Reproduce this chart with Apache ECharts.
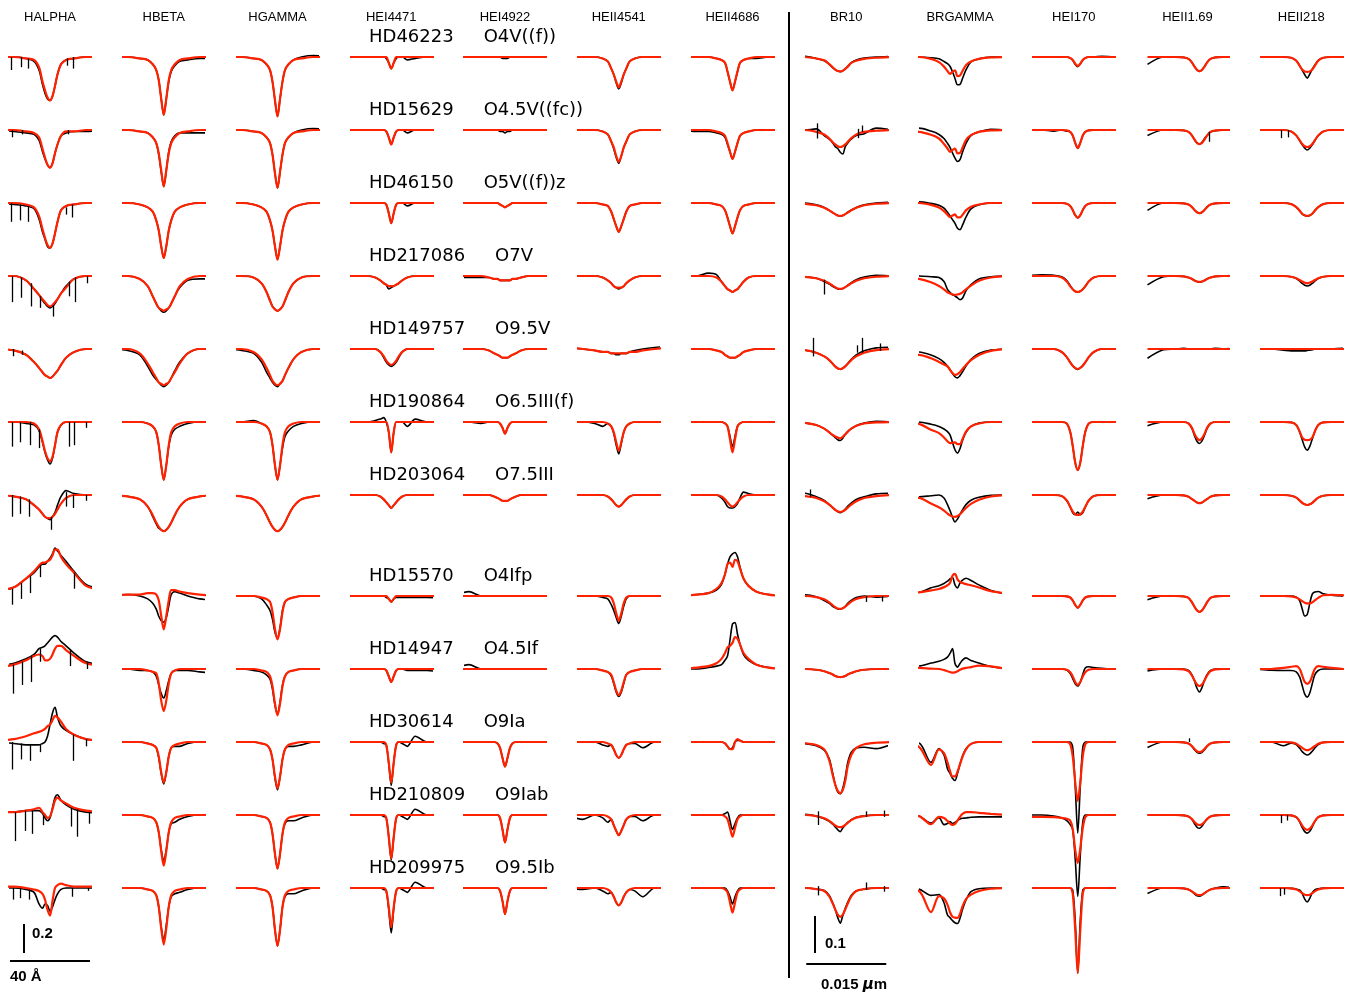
<!DOCTYPE html>
<html><head><meta charset="utf-8">
<script src="https://cdn.jsdelivr.net/npm/echarts@6/dist/echarts.min.js"></script>
<style>html,body{margin:0;padding:0;background:#fff}#chart{width:1351px;height:999px}</style>
</head><body><div id="chart"></div>
<script>
// ---------------- DATA ----------------
const lineNames = ['HALPHA','HBETA','HGAMMA','HEI4471','HEI4922','HEII4541','HEII4686','BR10','BRGAMMA','HEI170','HEII1.69','HEII218'];
const starNames = ['HD46223','HD15629','HD46150','HD217086','HD149757','HD190864','HD203064','HD15570','HD14947','HD30614','HD210809','HD209975'];
const spectralTypes = ['O4V((f))','O4.5V((fc))','O5V((f))z','O7V','O9.5V','O6.5III(f)','O7.5III','O4Ifp','O4.5If','O9Ia','O9Iab','O9.5Ib'];
// wavelength offsets from line centre at which the profiles were read (optical: Angstrom, IR: micron)
const dLambdaOptical = [-26,-18,-12,-8,-5.5,-3.75,-2.5,-1.25,0,1.25,2.5,3.75,5.5,8,12,18,26];
const dLambdaIR = [-0.00975,-0.00675,-0.0045,-0.003,-0.00206,-0.00141,-0.00094,-0.00047,0,0.00047,0.00094,0.00141,0.00206,0.003,0.0045,0.00675,0.00975];
// line centre relative to the middle of its window (axis units)
const lineCentreShift = [0,0,0,0,0,0,0,-0.001125,-0.00094,0.00075,0.00225,0.001125];
// profiles: (normalised flux - 1) in percent, one row per star

const obsHALPHA = [
[0,0,-1,-3,-9,-19,-25,-29,-30,-27,-20,-12,-5,-2,-1,0,0],
[0,-1,-2,-3,-7,-15,-20,-24,-26,-23,-16,-10,-4,-2,-1,-1,0],
[0,-1,-2,-4,-11,-20,-25,-30,-31,-28,-21,-13,-5,-2,-1,0,0],
[0,0,-3,-9,-13,-17,-19,-21,-22,-21,-19,-16,-12,-7,-2,0,0],
[0,-1,-4,-9,-13,-16,-18,-19,-20,-19,-17,-15,-11,-6,-2,0,0],
[0,0,-1,-2,-6,-14,-21,-26,-29,-25,-16,-7,-2,0,0,0,0],
[0,-1,-3,-7,-10,-13,-15,-16,-17,-15,-12,-7,-1,3,1,0,0],
[3,6,12,16,20,22,22,24,26,29,33,31,28,24,17,8,5],
[2,4,7,10,14,15,16,18,20,22,23,22,19,16,11,5,3],
[0,-1,-2,-2,-2,-1,0,4,12,20,24,17,11,8,5,2,1],
[2,2,3,3,3,1,-2,-4,-2,5,12,14,10,7,4,2,1],
[0,0,-1,-3,-11,-14,-11,-12,-16,-13,-8,-4,-1,0,0,0,0]];
const modHALPHA = [
[0,0,-1,-2,-7,-17,-23,-28,-30,-27,-20,-12,-5,-2,-1,0,0],
[0,0,-1,-2,-5,-13,-19,-24,-26,-23,-16,-10,-4,-1,-1,0,0],
[0,0,-1,-3,-9,-18,-24,-29,-31,-28,-21,-13,-5,-2,-1,0,0],
[0,0,-3,-9,-13,-16,-18,-20,-21,-20,-18,-16,-12,-8,-2,0,0],
[0,-1,-4,-9,-13,-16,-18,-19,-20,-19,-17,-15,-11,-6,-2,0,0],
[0,0,0,-1,-5,-13,-20,-25,-27,-24,-16,-7,-2,0,0,0,0],
[0,-1,-3,-7,-10,-13,-15,-16,-16,-15,-13,-10,-6,-2,0,0,0],
[4,6,12,17,21,23,23,24,25,28,32,32,27,22,16,7,4],
[1,3,6,9,10,9,6,6,7,10,14,16,16,13,9,4,2],
[1,2,4,6,7,8,9,11,12,15,18,17,14,9,5,2,1],
[2,2,3,4,5,2,0,-2,-1,4,10,12,10,8,5,3,2],
[1,1,0,-1,-2,-4,-8,-15,-19,-9,0,2,3,2,1,1,1]];

const obsHBETA = [
[0,0,-1,-2,-5,-9,-16,-29,-40,-29,-17,-10,-6,-3,-2,-1,-1],
[0,0,-1,-2,-5,-9,-17,-29,-39,-28,-15,-8,-4,-2,-2,-2,-2],
[0,0,-1,-3,-6,-12,-19,-30,-38,-30,-19,-12,-6,-3,-1,0,0],
[0,0,-2,-7,-14,-19,-22,-24,-25,-24,-22,-19,-14,-8,-3,-2,-2],
[0,-1,-4,-12,-18,-21,-23,-25,-26,-25,-23,-20,-15,-9,-3,0,0],
[0,0,0,-1,-3,-7,-16,-30,-40,-30,-17,-9,-5,-3,-1,0,0],
[0,-1,-3,-8,-15,-20,-23,-24,-25,-24,-22,-19,-14,-8,-3,-1,0],
[0,1,0,-2,-5,-9,-14,-17,-18,-15,-7,1,3,2,0,-2,-3],
[0,0,-1,-1,-2,-5,-11,-17,-20,-15,-8,-3,-1,-1,-1,-2,-3],
[0,0,0,-1,-2,-4,-11,-22,-29,-21,-10,-4,-3,-3,-1,0,0],
[0,0,0,-1,-2,-5,-12,-24,-32,-24,-12,-6,-5,-3,-1,0,0],
[0,0,0,-1,-2,-5,-13,-27,-36,-26,-13,-6,-4,-3,-1,0,0]];
const modHBETA = [
[0,0,-1,-2,-5,-9,-16,-29,-40,-29,-16,-9,-5,-2,-1,0,0],
[0,0,-1,-2,-5,-9,-16,-28,-39,-28,-16,-9,-5,-2,-1,0,0],
[0,0,-1,-3,-6,-12,-19,-30,-38,-30,-19,-12,-6,-3,-1,0,0],
[0,0,-2,-7,-14,-19,-22,-23,-24,-23,-22,-19,-14,-7,-2,0,0],
[0,0,-3,-10,-16,-20,-23,-24,-25,-24,-23,-20,-16,-10,-3,0,0],
[0,0,0,-1,-3,-7,-16,-30,-40,-30,-16,-7,-3,-1,0,0,0],
[0,-1,-3,-8,-14,-19,-22,-24,-25,-24,-22,-19,-14,-8,-3,-1,0],
[0,1,1,2,2,1,-3,-14,-23,-14,-3,4,4,3,2,1,0],
[0,0,0,-1,-2,-3,-10,-22,-29,-22,-10,-3,-1,0,0,0,0],
[0,0,0,-1,-2,-4,-10,-21,-28,-21,-10,-4,-2,-1,0,0,0],
[0,0,0,-1,-2,-5,-12,-25,-35,-25,-12,-5,-2,-1,0,0,0],
[0,0,0,-1,-2,-5,-13,-28,-39,-28,-13,-5,-2,-1,0,0,0]];

const obsHGAMMA = [
[0,0,-1,-2,-5,-9,-17,-30,-41,-29,-17,-9,-5,-2,0,1,0],
[0,0,-1,-2,-5,-9,-17,-30,-40,-29,-17,-9,-5,-2,0,1,0],
[0,0,-1,-3,-6,-12,-19,-30,-39,-30,-19,-12,-6,-3,-1,0,0],
[0,0,-1,-5,-11,-17,-21,-23,-24,-23,-21,-17,-11,-5,-1,0,0],
[0,-1,-3,-9,-16,-20,-23,-25,-26,-24,-22,-18,-13,-7,-2,0,0],
[0,0,1,-1,-3,-7,-16,-30,-40,-30,-18,-10,-6,-3,-1,0,0],
[0,-1,-3,-8,-14,-19,-22,-24,-25,-24,-22,-19,-14,-8,-3,-1,0],
[0,0,0,-2,-6,-10,-16,-25,-29,-22,-10,-4,-2,-1,0,0,0],
[0,0,-1,-2,-4,-7,-14,-25,-31,-23,-11,-5,-2,-1,0,0,0],
[0,0,0,-1,-2,-5,-12,-25,-33,-24,-12,-5,-3,-3,-2,0,0],
[0,0,0,-1,-2,-5,-13,-27,-37,-27,-13,-6,-4,-4,-2,0,0],
[0,0,0,-1,-2,-5,-13,-29,-40,-29,-13,-6,-4,-4,-2,0,0]];
const modHGAMMA = [
[0,0,-1,-2,-5,-9,-17,-30,-41,-29,-17,-9,-5,-2,-1,0,0],
[0,0,-1,-2,-5,-9,-17,-30,-40,-29,-17,-9,-5,-2,-1,0,0],
[0,0,-1,-3,-6,-12,-19,-30,-39,-30,-19,-12,-6,-3,-1,0,0],
[0,0,-1,-5,-11,-17,-21,-23,-24,-23,-21,-17,-11,-5,-1,0,0],
[0,0,-2,-7,-13,-18,-22,-24,-25,-24,-22,-18,-13,-7,-2,0,0],
[0,0,0,-1,-3,-7,-16,-30,-40,-30,-16,-7,-3,-1,0,0,0],
[0,-1,-3,-8,-14,-19,-22,-24,-25,-24,-22,-19,-14,-8,-3,-1,0],
[0,0,0,-1,-2,-4,-11,-23,-30,-23,-11,-4,-2,-1,0,0,0],
[0,0,0,-1,-2,-5,-12,-24,-32,-24,-12,-5,-2,-1,0,0,0],
[0,0,0,-1,-2,-5,-12,-24,-32,-24,-12,-5,-2,-1,0,0,0],
[0,0,0,-1,-2,-5,-13,-27,-37,-27,-13,-5,-2,-1,0,0,0],
[0,0,0,-1,-2,-5,-13,-29,-40,-29,-13,-5,-2,-1,0,0,0]];

const obsHEI4471 = [
[0,0,0,0,0,0,-1,-4,-8,-4,-1,0,0,-2,-1,0,0],
[0,0,0,0,0,0,-1,-5,-10,-5,-1,0,0,-2,0,0,0],
[0,0,0,0,0,0,-1,-7,-14,-7,-1,0,0,-2,0,0,0],
[0,0,0,-1,-3,-5,-6,-9,-8,-7,-6,-5,-3,-1,0,0,0],
[0,0,0,0,-2,-6,-9,-11,-12,-11,-9,-6,-2,0,0,0,0],
[0,0,0,1,2,3,0,-7,-21,-7,0,0,0,-3,2,0,0],
[0,0,0,0,-1,-3,-5,-7,-9,-7,-5,-3,-1,0,0,0,0],
[0,0,0,0,0,0,-1,-2,-4,-2,-1,-1,-1,-1,-1,-1,-2],
[0,0,0,0,0,0,-1,-5,-9,-5,-1,0,0,-1,-1,-1,-3],
[0,0,0,0,0,-1,-2,-15,-30,-14,-2,0,-1,-3,4,0,0],
[0,0,0,0,0,-1,-2,-15,-31,-15,-2,0,-1,-3,4,0,0],
[0,0,0,0,0,-1,-2,-15,-31,-14,-2,0,-1,-3,4,0,0]];
const modHEI4471 = [
[0,0,0,0,0,0,0,-4,-8,-4,0,0,0,0,0,0,0],
[0,0,0,0,0,0,-1,-5,-10,-5,-1,0,0,0,0,0,0],
[0,0,0,0,0,0,-1,-7,-14,-7,-1,0,0,0,0,0,0],
[0,0,0,-1,-3,-5,-6,-7,-7,-7,-6,-5,-3,-1,0,0,0],
[0,0,0,0,-2,-5,-8,-10,-11,-10,-8,-5,-2,0,0,0,0],
[0,0,0,0,0,0,0,-7,-21,-7,0,0,0,0,0,0,0],
[0,0,0,0,-1,-3,-5,-7,-9,-7,-5,-3,-1,0,0,0,0],
[0,0,0,0,0,0,0,-2,-4,-2,0,0,0,0,0,0,0],
[0,0,0,0,0,0,-1,-5,-9,-5,-1,0,0,0,0,0,0],
[0,0,0,0,0,0,-2,-14,-28,-14,-2,0,0,0,0,0,0],
[0,0,0,0,0,0,-2,-15,-30,-15,-2,0,0,0,0,0,0],
[0,0,0,0,0,0,-2,-13,-27,-13,-2,0,0,0,0,0,0]];

const obsHEI4922 = [
[0,0,0,0,0,0,0,-1,-1,-1,0,0,0,0,0,0,0],
[0,0,0,0,0,0,-1,-1,-2,-1,-1,0,0,0,0,0,0],
[0,0,0,0,0,0,-1,-2,-3,-2,-1,0,0,0,0,0,0],
[-1,-1,-1,-1,-2,-2,-3,-3,-3,-3,-3,-2,-2,-1,0,0,0],
[0,0,0,-1,-3,-4,-5,-6,-6,-6,-5,-4,-3,-1,0,0,0],
[0,0,-1,0,0,0,-1,-4,-8,-4,-1,0,0,0,0,0,0],
[0,0,0,0,-1,-2,-3,-4,-4,-4,-3,-2,-1,0,0,0,0],
[0,3,0,0,0,0,0,0,0,0,0,0,0,0,0,0,0],
[0,3,0,0,0,0,0,0,0,0,0,0,0,0,0,0,0],
[0,0,0,0,0,-1,-4,-11,-17,-11,-4,-1,0,0,0,0,0],
[0,0,0,0,0,0,-2,-10,-19,-10,-2,0,0,0,0,0,0],
[0,0,0,0,0,0,-2,-9,-18,-9,-2,0,0,0,0,0,0]];
const modHEI4922 = [
[0,0,0,0,0,0,0,0,0,0,0,0,0,0,0,0,0],
[0,0,0,0,0,0,0,0,0,0,0,0,0,0,0,0,0],
[0,0,0,0,0,0,-1,-2,-3,-2,-1,0,0,0,0,0,0],
[0,0,0,-1,-2,-2,-3,-3,-3,-3,-3,-2,-2,-1,0,0,0],
[0,0,0,-1,-3,-4,-5,-6,-6,-6,-5,-4,-3,-1,0,0,0],
[0,0,0,0,0,0,-1,-4,-8,-4,-1,0,0,0,0,0,0],
[0,0,0,0,-1,-2,-3,-4,-4,-4,-3,-2,-1,0,0,0,0],
[0,0,0,0,0,0,0,0,0,0,0,0,0,0,0,0,0],
[0,0,0,0,0,0,0,0,0,0,0,0,0,0,0,0,0],
[0,0,0,0,0,-1,-4,-11,-17,-11,-4,-1,0,0,0,0,0],
[0,0,0,0,0,0,-2,-10,-19,-10,-2,0,0,0,0,0,0],
[0,0,0,0,0,0,-2,-9,-18,-9,-2,0,0,0,0,0,0]];

const obsHEII4541 = [
[0,0,0,-1,-3,-8,-12,-18,-22,-18,-12,-8,-3,-1,0,0,0],
[0,0,0,-1,-3,-8,-13,-19,-23,-18,-12,-8,-3,-1,0,0,0],
[0,0,0,-1,-2,-6,-11,-16,-20,-16,-11,-6,-2,-1,0,0,0],
[0,0,0,-1,-3,-5,-7,-8,-9,-8,-7,-5,-3,-1,0,0,0],
[1,0,-1,-2,-2,-3,-3,-4,-4,-3,-3,-3,-2,-1,0,1,2],
[0,0,-1,-3,-1,-3,-8,-16,-22,-15,-7,-3,-1,0,0,0,0],
[0,0,0,0,-1,-3,-5,-7,-8,-7,-5,-3,-1,0,0,0,0],
[0,0,0,-1,-2,-6,-10,-15,-19,-14,-7,-2,0,0,0,0,0],
[0,0,0,-1,-2,-5,-10,-16,-19,-16,-10,-4,-2,-1,0,0,0],
[0,0,0,-2,-3,-2,-5,-9,-11,-9,-5,-2,-1,-1,-4,0,0],
[0,-3,0,-2,-5,-3,-7,-11,-14,-11,-7,-3,-1,-1,-4,0,0],
[0,-1,0,-2,-4,-3,-6,-10,-12,-10,-6,-3,-1,-2,-6,0,0]];
const modHEII4541 = [
[0,0,0,-1,-3,-8,-12,-17,-21,-17,-12,-8,-3,-1,0,0,0],
[0,0,0,-1,-3,-8,-12,-18,-22,-18,-12,-8,-3,-1,0,0,0],
[0,0,0,-1,-2,-6,-11,-16,-20,-16,-11,-6,-2,-1,0,0,0],
[0,0,0,-1,-3,-5,-7,-8,-8,-8,-7,-5,-3,-1,0,0,0],
[1,0,-1,-2,-2,-3,-3,-3,-3,-3,-3,-3,-2,-2,-1,0,1],
[0,0,0,0,-1,-3,-7,-14,-20,-14,-7,-3,-1,0,0,0,0],
[0,0,0,0,-1,-3,-5,-7,-8,-7,-5,-3,-1,0,0,0,0],
[0,0,0,0,0,-1,-5,-12,-17,-12,-5,-1,0,0,0,0,0],
[0,0,0,-1,-2,-4,-9,-15,-18,-15,-9,-4,-2,-1,0,0,0],
[0,0,0,0,-1,-2,-5,-9,-11,-9,-5,-2,-1,0,0,0,0],
[0,0,0,0,-1,-3,-7,-11,-14,-11,-7,-3,-1,0,0,0,0],
[0,0,0,0,-1,-3,-6,-10,-12,-10,-6,-3,-1,0,0,0,0]];

const obsHEII4686 = [
[0,0,0,-1,-2,-4,-10,-17,-23,-17,-10,-4,-2,-1,-1,0,0],
[0,-1,-1,-2,-3,-5,-10,-15,-20,-15,-9,-4,-2,-1,0,0,0],
[0,0,0,-1,-2,-5,-10,-16,-21,-16,-10,-5,-2,-1,0,0,0],
[0,0,2,1,-4,-7,-9,-10,-11,-10,-9,-7,-4,-1,0,0,0],
[0,0,0,-1,-2,-4,-5,-6,-6,-6,-5,-4,-2,-1,0,0,0],
[0,0,0,0,0,-1,-3,-10,-17,-10,-3,-1,0,0,0,0,0],
[0,0,0,0,-2,-5,-8,-9,-9,-8,-6,-2,2,1,0,0,0],
[0,1,2,4,8,15,22,27,29,30,27,20,12,7,3,1,0],
[0,0,1,2,3,6,9,20,31,32,24,17,10,6,3,1,0],
[0,0,0,0,0,-1,-3,-5,-4,0,1,1,0,0,0,0,0],
[0,0,0,0,0,1,2,-4,-10,-6,-2,0,0,0,0,0,0],
[0,0,0,0,0,0,-2,-6,-11,-6,-2,0,0,0,0,0,0]];
const modHEII4686 = [
[0,0,0,-1,-2,-4,-10,-17,-23,-17,-10,-4,-2,-1,0,0,0],
[0,0,0,-1,-2,-4,-9,-15,-20,-15,-9,-4,-2,-1,0,0,0],
[0,0,0,-1,-2,-5,-10,-16,-21,-16,-10,-5,-2,-1,0,0,0],
[0,0,0,-1,-4,-7,-9,-10,-11,-10,-9,-7,-4,-1,0,0,0],
[0,0,0,-1,-2,-4,-5,-6,-6,-6,-5,-4,-2,-1,0,0,0],
[0,0,0,0,0,-1,-3,-12,-21,-12,-3,-1,0,0,0,0,0],
[0,0,0,0,-1,-3,-5,-7,-8,-7,-5,-3,-1,0,0,0,0],
[0,1,2,5,9,15,22,23,20,25,24,19,12,7,3,1,0],
[0,1,2,4,7,11,15,16,18,22,21,17,11,7,3,1,0],
[0,0,0,0,0,-1,-3,-5,-5,0,2,1,0,0,0,0,0],
[0,0,0,0,0,-1,-3,-9,-15,-9,-3,-1,0,0,0,0,0],
[0,0,0,0,0,-1,-3,-10,-17,-10,-3,-1,0,0,0,0,0]];

const obsBR10 = [
[0,0.2,-0.4,-1,-2,-2.9,-3.4,-3.8,-4,-3.7,-3.2,-2.5,-1.5,-0.8,-0.3,0,0.2],
[0,0,0.3,-1.5,-2.5,-3.5,-4.5,-5,-6,-6.5,-4.5,-3.5,-2.5,-1.5,-1,0.5,0],
[0,0,-0.5,-1.2,-2,-2.6,-3,-3.4,-3.6,-3.4,-3,-2.5,-1.9,-1.2,-0.5,0,0.2],
[0,-0.2,-0.6,-1.5,-2.2,-2.8,-3.2,-3.5,-3.6,-3.4,-3,-2.5,-1.8,-1,-0.3,0.2,0],
[0,-0.3,-1,-2,-3,-4,-4.8,-5.3,-5.5,-5.2,-4.6,-3.9,-2.8,-1.6,-0.5,0.3,0.5],
[0,-0.2,-0.8,-1.8,-2.8,-3.6,-4.2,-4.8,-5,-4.4,-3.4,-2.6,-1.8,-1,-0.3,0.2,0],
[0,0.5,-0.5,-1.5,-2.6,-3.5,-4,-4.5,-4.8,-4.4,-3.8,-3,-2.2,-1.2,-0.5,0.3,0.5],
[0,0.3,-0.2,-1.2,-2,-2.8,-3.2,-3.5,-3.6,-3.3,-2.8,-2,-1.2,-0.4,0,-0.3,0],
[0,0,-0.2,-0.6,-1.1,-1.5,-1.9,-2.1,-2.2,-2.1,-1.9,-1.5,-1.1,-0.6,-0.2,0,0],
[0,-0.4,-1,-2.2,-4.5,-8.5,-11.5,-13.5,-14,-12.5,-9.5,-5.5,-2.8,-1.6,-1.4,-1.8,-0.5],
[0,0.2,-0.3,-1,-1.7,-2.5,-3.2,-4,-4.5,-3.5,-2.7,-2,-1.3,-0.6,-0.2,0,0],
[0,0,-0.3,-0.7,-2,-4,-5.8,-8,-9.5,-7.5,-5.5,-3.8,-2,-0.8,-0.3,0,0]];
const modBR10 = [
[0,0,-0.4,-0.9,-1.9,-2.8,-3.4,-3.8,-3.9,-3.7,-3.2,-2.6,-1.6,-1,-0.5,-0.2,0],
[0,0,-0.5,-1.2,-2.3,-3.3,-3.9,-4.4,-4.6,-4.4,-3.9,-3.2,-2.2,-1.2,-0.5,-0.2,0],
[0,-0.2,-0.6,-1.3,-2,-2.6,-3,-3.4,-3.5,-3.4,-3,-2.6,-2,-1.3,-0.6,-0.2,0],
[0,-0.2,-0.6,-1.3,-2,-2.6,-3,-3.4,-3.5,-3.4,-3,-2.6,-2,-1.3,-0.6,-0.2,0],
[0,-0.3,-1,-2,-3,-4,-4.7,-5.2,-5.4,-5.2,-4.7,-4,-3,-2,-1,-0.3,0],
[0,-0.2,-0.8,-1.8,-2.8,-3.5,-3.9,-4.2,-4.4,-4,-3.3,-2.6,-1.8,-1,-0.4,-0.1,0],
[0,-0.3,-0.8,-1.7,-2.6,-3.4,-4,-4.4,-4.6,-4.4,-4,-3.4,-2.6,-1.7,-0.8,-0.3,0],
[0,0,-0.3,-0.9,-1.7,-2.5,-3,-3.4,-3.5,-3.3,-2.9,-2.3,-1.5,-0.8,-0.3,0,0],
[0,0,-0.2,-0.6,-1.1,-1.5,-1.9,-2.1,-2.2,-2.1,-1.9,-1.5,-1.1,-0.6,-0.2,0,0],
[0,-0.3,-0.8,-2,-5,-9,-11.5,-13.2,-13.8,-13,-10.5,-6.5,-3.5,-1.6,-0.6,-0.2,0],
[0,0,-0.3,-0.9,-1.6,-2.3,-2.8,-3.2,-3.3,-3.1,-2.7,-2.1,-1.4,-0.7,-0.3,0,0],
[0,0,-0.3,-0.8,-2.3,-4.2,-5.8,-7.2,-7.8,-7.2,-5.8,-4.2,-2.3,-0.8,-0.3,0,0]];

const obsBRGAMMA = [
[0,0,-0.2,-0.5,-1.2,-1.8,-2.5,-4,-5.8,-7.5,-7.4,-5.8,-3.5,-1.3,-0.5,0,0],
[0.5,0.5,-0.3,-1.2,-2.3,-3.6,-4.7,-6.2,-7.6,-8.5,-8,-6,-3.6,-1.5,-0.5,0.2,0],
[0,0.3,-0.1,-0.6,-1.4,-2.5,-3.5,-4.5,-5.5,-6.8,-7.2,-6,-3.8,-1.6,-0.5,0,0],
[0,0,-0.2,-0.4,-1.5,-3.6,-4.4,-5,-5.4,-5.9,-6.4,-6,-4,-2.3,-0.8,-0.2,0],
[-0.7,-0.8,-1.6,-2.6,-3.6,-4.6,-5.6,-6.6,-7.5,-7.8,-7.2,-6.2,-4.6,-2.8,-1.2,-0.3,0],
[0,0,-0.6,-1.2,-1.9,-2.6,-3.5,-5.5,-7.5,-8.4,-7.2,-5,-2.8,-1.2,-0.3,0,0],
[-0.5,-0.5,-0.2,0,-0.8,-2.6,-4.2,-6,-7.3,-6.5,-5.2,-4,-2.6,-1.4,-0.6,-0.1,0],
[0.8,1,2.2,2.8,3.4,4,4.6,5,3,2.2,3.5,4.3,4.8,4.2,3,1.5,0.5],
[0.5,0.8,1.6,2.1,2.6,3.2,4.2,5.5,1.5,0.5,1.5,2.4,3,2.3,1.6,0.7,0],
[0,-0.3,-5.5,-1.8,-3.5,-7.2,-8.5,-9.8,-10.4,-8.5,-6,-3.8,-1.8,-0.5,0,0,0],
[0,-0.3,-2.2,-0.7,-2.6,-2.3,-1.8,-2.3,-2,-1.5,-1.1,-0.9,-0.8,-0.6,-0.5,-0.5,-0.5],
[0,-0.3,-2,-1.8,-4,-7.3,-8,-8.8,-9.4,-9.6,-8.2,-5.8,-3.3,-1,-0.2,0,0]];
const modBRGAMMA = [
[0,0,-0.5,-1.4,-2.6,-3.8,-4.6,-4,-3.6,-5.2,-5,-3.8,-2.2,-1.2,-0.5,-0.1,0],
[-0.4,-0.5,-1.3,-2.3,-3.8,-5,-5.9,-5.4,-5,-6.3,-6.2,-4.8,-2.7,-1.4,-0.5,-0.1,0],
[0,0,-0.5,-1.2,-2.2,-3.2,-3.8,-3.4,-3.1,-3.9,-3.9,-3.2,-2,-1,-0.4,0,0],
[-0.5,-0.8,-1.7,-2.7,-3.6,-4.4,-4.7,-5,-5.1,-5,-4.8,-4.4,-3.6,-2.6,-1.3,-0.4,0],
[-1.5,-1.6,-2.5,-3.5,-4.2,-4.7,-5.6,-6.5,-7,-6.8,-6.2,-5.4,-4.3,-3,-1.6,-0.5,0],
[0,-0.5,-2.1,-3,-4.2,-5.2,-5.7,-5.6,-5.5,-6,-6,-4.6,-2.6,-1.2,-0.4,0,0],
[-0.6,-0.8,-2.3,-3.3,-4.2,-5,-5.5,-5.8,-5.9,-5.7,-5.2,-4.5,-3.5,-2.4,-1.3,-0.4,0],
[0.8,1,1.5,1.9,2.4,2.9,3.5,5.5,6,4.5,3.8,3.5,3.2,2.9,2.3,1.3,0.7],
[0.3,0.3,0.1,0,-0.3,-0.6,-0.8,-1,-0.9,-0.6,-0.2,0.1,0.3,0.5,0.9,0.7,0],
[-0.5,-1.3,-6.2,-2,-3,-5.5,-7.8,-9.3,-9.3,-8,-6,-4,-2,-0.5,0,0,0],
[0,-0.3,-2.5,-0.5,-0.8,-1.6,-2.3,-2.7,-2.4,-1.5,-0.5,0.3,0.8,0.8,0.6,0.3,0],
[-0.3,-0.8,-6.5,-2.2,-2.8,-4.5,-6.5,-7.8,-8,-8.1,-7,-5,-3,-1.8,-0.8,-0.2,0]];

const obsHEI170 = [
[0,0,0,0,0,-0.3,-0.9,-2,-2.6,-1.9,-0.8,-0.3,0,0,0.2,0,0],
[0,0,-0.3,0,-0.3,-0.5,-1.5,-3.5,-4.9,-3.5,-1.5,-0.5,-0.1,0,0,0,0],
[0,0,0,0,-0.2,-0.8,-1.9,-3.3,-4,-3.3,-1.9,-0.8,-0.2,0,0,0,0],
[0,0.3,0.2,-0.2,-1.2,-2.6,-3.6,-4.2,-4.4,-4.1,-3.6,-2.8,-1.5,-0.4,0,0,0],
[0,0,0,-0.8,-2.2,-3.6,-4.6,-5.2,-5.5,-5.1,-4.5,-3.6,-2.2,-0.8,0,0,0],
[0,0,0,0,-0.4,-2.7,-6.5,-11,-13,-11,-6.5,-2.7,-0.4,0,0,0,0],
[0,0,0,-0.3,-1.5,-3.3,-4.8,-5.3,-4.6,-5.3,-4.8,-3.3,-1.5,-0.3,0,0,0],
[0,0,0,0,-0.1,-0.4,-1.2,-2.4,-3.2,-2.4,-1.2,-0.4,-0.1,0,0,0,0],
[0,0,0,0,-0.3,-1.2,-2.6,-4,-4.6,-3.6,-1.5,0.3,0.6,0.4,0.2,0,0],
[0,0,0,0,0,0,-1.5,-12,-24.6,-12,-1.5,0,0,0,0,0,0],
[0,0,-0.3,-0.8,-1.5,-2.6,-4,-12,-22,-11,-2,0,0,0,0,0,0],
[0,0,0,0,0,0,-0.6,-9,-23,-9,-0.6,0,0,0,0,0,0]];
const modHEI170 = [
[0,0,0,0,0,-0.3,-0.8,-1.8,-2.4,-1.8,-0.8,-0.3,0,0,0,0,0],
[0,0,0,0,-0.1,-0.5,-1.5,-3.5,-4.9,-3.5,-1.5,-0.5,-0.1,0,0,0,0],
[0,0,0,0,-0.2,-0.8,-1.9,-3.3,-4,-3.3,-1.9,-0.8,-0.2,0,0,0,0],
[0,0,0,-0.4,-1.5,-2.8,-3.6,-4.1,-4.3,-4.1,-3.6,-2.8,-1.5,-0.4,0,0,0],
[0,0,0,-0.8,-2.2,-3.6,-4.5,-5.1,-5.4,-5.1,-4.5,-3.6,-2.2,-0.8,0,0,0],
[0,0,0,0,-0.4,-2.7,-6.5,-11,-13,-11,-6.5,-2.7,-0.4,0,0,0,0],
[0,0,0,-0.3,-1.5,-3.2,-4.5,-5.2,-5.4,-5.2,-4.5,-3.2,-1.5,-0.3,0,0,0],
[0,0,0,0,-0.1,-0.4,-1.2,-2.4,-3.2,-2.4,-1.2,-0.4,-0.1,0,0,0,0],
[0,0,0,0,-0.2,-0.9,-2,-3.5,-4.3,-3.5,-2,-0.9,-0.2,0,0,0,0],
[0,0,0,0,0,-0.6,-3.9,-11,-16,-11,-3.9,-0.6,0,0,0,0,0],
[-0.5,-0.5,-0.6,-0.8,-1,-1.5,-3.8,-9.5,-13,-9,-3.5,-0.6,0,0,0,0,0],
[0,0,0,0,0,0,-1.5,-11.5,-23,-11.5,-1.5,0,0,0,0,0,0]];

const obsHEII169 = [
[-2,0,0,-0.1,-0.5,-1.5,-2.6,-3.5,-3.9,-3.5,-2.6,-1.5,-0.5,-0.1,0,0,0],
[-1.5,0,0,-0.1,-0.5,-1.5,-2.6,-3.5,-3.8,-3.3,-2.3,-1.5,-0.5,-0.2,0,0,0],
[-2,0,0,-0.1,-0.4,-1.1,-1.9,-2.5,-2.8,-2.5,-1.9,-1.1,-0.4,-0.1,0,0,0],
[-2.4,-0.2,0,-0.1,-0.4,-0.8,-1.2,-1.5,-1.7,-1.5,-1.2,-0.8,-0.4,-0.1,0,0.2,0],
[-2.5,-0.2,0,0.2,0,0,0,0,0,0,0,0,0,0.2,0,0.3,0.2],
[-1,0,0,0,-0.4,-1.8,-3.7,-5.2,-5.8,-5.1,-3.6,-1.8,-0.4,0,0,0,0],
[-1,0,0,-0.1,-0.5,-1.1,-1.6,-2,-2.2,-2,-1.6,-1.1,-0.5,-0.1,0,0,0],
[-1,0,0,-0.1,-0.5,-1.7,-2.9,-3.9,-4.3,-3.9,-2.9,-1.7,-0.5,-0.1,0,0,0],
[-0.5,0,0,0,-0.4,-1.6,-3.2,-5.2,-6.2,-5,-3,-1.5,-0.4,0,0,0,0],
[-1.5,0,0,-0.1,-0.4,-1.2,-2.1,-2.8,-3,-2.8,-2.1,-1.2,-0.4,-0.1,0,0,0],
[0,0,0,-0.1,-0.4,-1.2,-2.3,-3.3,-3.6,-3,-2,-1.1,-0.4,-0.1,0,0,0],
[-1.5,0,0,-0.1,-0.4,-1,-1.6,-2.1,-2.2,-1.9,-1.4,-0.9,-0.4,0,0.3,0,0]];
const modHEII169 = [
[0,0,0,-0.1,-0.5,-1.5,-2.6,-3.5,-3.8,-3.5,-2.6,-1.5,-0.5,-0.1,0,0,0],
[0,0,0,-0.1,-0.5,-1.5,-2.6,-3.5,-3.8,-3.5,-2.6,-1.5,-0.5,-0.1,0,0,0],
[0,0,0,-0.1,-0.4,-1.1,-1.9,-2.5,-2.7,-2.5,-1.9,-1.1,-0.4,-0.1,0,0,0],
[0,0,0,-0.1,-0.4,-0.8,-1.2,-1.5,-1.6,-1.5,-1.2,-0.8,-0.4,-0.1,0,0,0],
[0,0,0,0,0,0,0,0,0,0,0,0,0,0,0,0,0],
[0,0,0,0,-0.4,-1.6,-3.2,-4.4,-4.9,-4.4,-3.2,-1.6,-0.4,0,0,0,0],
[0,0,0,-0.1,-0.5,-1.1,-1.6,-2,-2.2,-2,-1.6,-1.1,-0.5,-0.1,0,0,0],
[0,0,0,-0.1,-0.5,-1.7,-2.9,-3.9,-4.3,-3.9,-2.9,-1.7,-0.5,-0.1,0,0,0],
[0,0,0,-0.1,-0.6,-1.8,-3.1,-4.2,-4.6,-4.2,-3.1,-1.8,-0.6,-0.1,0,0,0],
[0,0,0,-0.1,-0.4,-1.1,-1.9,-2.5,-2.7,-2.5,-1.9,-1.1,-0.4,-0.1,0,0,0],
[0,0,0,-0.1,-0.4,-1.1,-1.9,-2.5,-2.7,-2.5,-1.9,-1.1,-0.4,-0.1,0,0,0],
[0,0,0,-0.1,-0.4,-0.9,-1.4,-1.8,-1.9,-1.8,-1.4,-0.9,-0.4,-0.1,0,0,0]];

const obsHEII218 = [
[0,0,0,-0.2,-1,-2.4,-3.6,-4.8,-5.7,-4.6,-3.3,-2.2,-0.9,-0.2,0,0,0],
[0,0,0,-0.4,-1.5,-2.9,-4,-4.9,-5.4,-4.9,-4,-2.9,-1.5,-0.4,0,0,0],
[0,0,0,-0.3,-1.1,-2.2,-3,-3.4,-3.6,-3.4,-2.9,-2.1,-1.1,-0.3,0,0,0],
[0,0,0,-0.2,-0.7,-1.4,-2,-2.5,-2.7,-2.5,-2,-1.4,-0.7,-0.2,0,0,0],
[0,0,-0.3,-0.5,-0.5,-0.5,-0.5,-0.5,-0.4,-0.3,-0.2,0,0,0,0,0.2,0.2],
[0,0,0,-0.1,-0.8,-2.8,-4.8,-6.8,-7.6,-6.6,-4.6,-2.6,-0.8,-0.1,0,0,0],
[0,0,0,-0.2,-0.7,-1.5,-2.1,-2.5,-2.7,-2.5,-2.1,-1.5,-0.7,-0.2,0,0,0],
[0,0,0,0,-0.3,-1.3,-3.5,-5.4,-5,-2,0.5,1.1,1.2,0.6,0.2,0,0],
[0,-0.3,-0.4,-0.4,-0.8,-2.2,-4.5,-6.8,-7.6,-6.5,-4,-1.6,-0.4,0,0,0,0],
[0,0,-1,-0.3,-0.7,-1.7,-2.6,-3.2,-3.5,-3.2,-2.5,-1.6,-0.7,-0.1,0,0,0],
[0,0,0,-0.1,-0.6,-1.9,-3.4,-4.5,-4.9,-4.4,-3.2,-1.8,-0.6,-0.1,0,0,0],
[0,0,0,-0.1,-0.3,-0.6,-1.5,-3,-3.8,-2.8,-1.3,-0.5,-0.2,0,0,0,0]];
const modHEII218 = [
[0,0,0,-0.2,-1,-2.4,-3.4,-3.9,-4,-3.9,-3.4,-2.4,-1,-0.2,0,0,0],
[0,0,0,-0.4,-1.5,-2.8,-3.8,-4.4,-4.6,-4.4,-3.8,-2.8,-1.5,-0.4,0,0,0],
[0,0,0,-0.3,-1.1,-2.1,-2.9,-3.3,-3.5,-3.3,-2.9,-2.1,-1.1,-0.3,0,0,0],
[0,0,0,-0.2,-0.6,-1.1,-1.5,-1.8,-2,-1.8,-1.5,-1.1,-0.6,-0.2,0,0,0],
[0,0,0,0,0,0,0,0,0,0,0,0,0,0,0,0,0],
[0,0,0,-0.1,-0.8,-2.6,-4.2,-4.8,-4.9,-4.8,-4.2,-2.6,-0.8,-0.1,0,0,0],
[0,0,0,-0.2,-0.7,-1.5,-2.1,-2.5,-2.7,-2.5,-2.1,-1.5,-0.7,-0.2,0,0,0],
[0,0,0,-0.1,-0.4,-0.9,-1.4,-1.8,-2,-2,-1.7,-1.2,-0.5,0.2,0.3,0.2,0],
[0,0,0.3,0.6,0.8,0,-1.8,-3.5,-4,-3.5,-1.8,0,0.8,0.6,0.3,0,0],
[0,0,0,-0.1,-0.5,-1.1,-1.6,-2,-2.2,-2,-1.6,-1.1,-0.5,-0.1,0,0,0],
[0,0,0,-0.1,-0.6,-1.7,-2.9,-3.7,-4,-3.7,-2.9,-1.7,-0.6,-0.1,0,0,0],
[0,0,0,-0.1,-0.4,-0.9,-1.4,-1.8,-1.9,-1.8,-1.4,-0.9,-0.4,-0.1,0,0,0]];

// narrow telluric / noise spikes in the observed spectra: [offset, top %, bottom %]
const spikesHALPHA = [
[[-19.5,0,-9],[-14.5,0,-7],[-11,-1,-8],[8.5,-1,-6],[11.5,0,-8]],
[[-19,0,-5],[-14,0,-3],[9,0,-3]],
[[-19.5,0,-13],[-15,-1,-12],[-11,-2,-13],[8.3,-3,-8],[11.3,-1,-10]],
[[-18.7,0,-18],[-14.2,-1,-15],[-9.5,-5,-21],[-5,-14,-22],[1.7,-20,-28],[9.7,-4,-14],[12.5,-1,-18],[18.8,0,-5]],
[[-18.5,0,-5],[-14,-1,-4]],
[[-18.8,0,-17],[-14.7,0,-14],[-10,0,-16],[-5.5,-5,-18],[9.5,0,-17],[12,0,-16],[18.3,0,-4]],
[[-18.8,0,-15],[-14.7,-1,-13],[-10.3,-3,-15],[0.8,-15,-24],[8.3,2,-8],[11.7,0,-9],[18,0,-4]],
[[-18.8,5,-6],[-14.2,9,-2],[-9.7,14,2],[-5,21,13],[12,16,5]],
[[-18.3,3,-17],[-13.7,5,-11],[-9.5,9,-9],[-5,14,5],[10,13,2],[18.5,5,0]],
[[-18.8,0,-19],[-14.2,-1,-12],[-10,-2,-13],[-5,-2,-7],[11.7,5,-13],[18,2,-3]],
[[-17.5,2,-18],[-12.5,3,-11],[-8.7,3,-13],[-3.3,0,-7],[10.8,5,-8],[13.7,4,-15],[19.7,2,-6]],
[[-18.3,0,-8],[-14.7,0,-7],[-10.3,-1,-8],[11.3,0,-6],[19,0,-2]]];
const spikesBR10 = [[],
[[-0.0044,1.8,-2.3],[0.0034,0.3,-2.2],[0.0042,1.2,-0.5]],
[],
[[-0.003,-1,-5]],
[[-0.0051,3,-2],[0.0032,1,-1],[0.0041,3,-1],[0.0075,1.5,-0.5]],
[],
[[-0.0056,1.5,-0.5]],
[[0.0048,0,-1.6],[0.0078,0,-1.5]],
[],[],
[[-0.0041,1,-2.7],[0.0048,1,-0.5],[0.0082,1.2,-0.5]],
[[-0.0041,0.5,-2],[0.0048,1.5,-0.5],[0.0082,0.5,-1]]];
const spikesHEII169 = [[],[[0.0019,-0.5,-3.2]],[],[],[],[],[],[],[],[[-0.0019,1,0]],[],[]];
const spikesHEII218 = [[],[[-0.0049,0,-2.2],[-0.0036,0,-2]],[],[],[],[],[],[],[],[],[[-0.0049,0,-2.2],[-0.0038,0,-1.5]],[[-0.0051,0,-2.2],[-0.0043,0,-1.8]]];

// ---------------- LAYOUT ----------------
const observed = [obsHALPHA,obsHBETA,obsHGAMMA,obsHEI4471,obsHEI4922,obsHEII4541,obsHEII4686,obsBR10,obsBRGAMMA,obsHEI170,obsHEII169,obsHEII218];
const model = [modHALPHA,modHBETA,modHGAMMA,modHEI4471,modHEI4922,modHEII4541,modHEII4686,modBR10,modBRGAMMA,modHEI170,modHEII169,modHEII218];
const spikes = {0: spikesHALPHA, 7: spikesBR10, 10: spikesHEII169, 11: spikesHEII218};

const colLeft0 = 10, colStep = 113.75, panelW = 80;
const rowBase = [57,130,203,276,349,422,495,596,669,742,815,888];
const pxPerUnitOpt = 145, pxPerUnitIR = 370;
const halfWOpt = 20, halfWIR = 0.0075;
const above = 55, below = 108;
const RED = '#ff2200';

const grids = [], xAxes = [], yAxes = [], series = [];
let gi = 0;
for (let c = 0; c < lineNames.length; c++) {
  const isIR = c >= 7;
  const S = isIR ? pxPerUnitIR : pxPerUnitOpt;
  const hw = isIR ? halfWIR : halfWOpt;
  const xs = isIR ? dLambdaIR : dLambdaOptical;
  const sh = lineCentreShift[c];
  for (let r = 0; r < starNames.length; r++) {
    grids.push({left: colLeft0 + colStep * c, top: rowBase[r] - above, width: panelW, height: above + below, show: false});
    xAxes.push({type: 'value', gridIndex: gi, min: -hw, max: hw, show: false});
    yAxes.push({type: 'value', gridIndex: gi, min: 1 - below / S, max: 1 + above / S, show: false});
    const toData = arr => arr.map((v, i) => [xs[i] + sh, 1 + v / 100]);
    const sp = spikes[c] ? spikes[c][r] : [];
    const obsSeries = {
      name: lineNames[c] + ' ' + starNames[r] + ' observed', type: 'line', xAxisIndex: gi, yAxisIndex: gi,
      data: toData(observed[c][r]), showSymbol: false, symbol: 'none', smooth: 0.3, clip: true, silent: true,
      lineStyle: {color: '#000', width: 1.6}, z: 2
    };
    if (sp && sp.length) {
      obsSeries.markLine = {
        silent: true, symbol: ['none', 'none'], label: {show: false},
        lineStyle: {color: '#000', width: 1.3, type: 'solid'},
        data: sp.map(s => [{coord: [s[0] + sh, 1 + s[1] / 100]}, {coord: [s[0] + sh, 1 + s[2] / 100]}])
      };
    }
    series.push(obsSeries);
    series.push({
      name: lineNames[c] + ' ' + starNames[r] + ' model', type: 'line', xAxisIndex: gi, yAxisIndex: gi,
      data: toData(model[c][r]), showSymbol: false, symbol: 'none', smooth: 0.3, clip: true, silent: true,
      lineStyle: {color: RED, width: 2.2}, z: 3
    });
    gi++;
  }
}

// ---------------- TEXT & ANNOTATIONS ----------------
const graphics = [];
const headFont = '13px "Liberation Sans", Arial, sans-serif';
lineNames.forEach((n, c) => {
  graphics.push({type: 'text', x: colLeft0 + colStep * c + panelW / 2, y: 17, silent: true,
    style: {text: n, font: headFont, fill: '#000', align: 'center', verticalAlign: 'middle'}});
});
const starFont = '18px "DejaVu Sans", sans-serif';
const mctx = document.createElement('canvas').getContext('2d');
mctx.font = starFont;
const labelX = 369;
starNames.forEach((n, r) => {
  const y = rowBase[r] - 20;
  graphics.push({type: 'text', x: labelX, y: y, silent: true,
    style: {text: n, font: starFont, fill: '#000', align: 'left', verticalAlign: 'middle'}});
  graphics.push({type: 'text', x: labelX + mctx.measureText(n).width + 30, y: y, silent: true,
    style: {text: spectralTypes[r], font: starFont, fill: '#000', align: 'left', verticalAlign: 'middle'}});
});
// separator between optical and infrared
graphics.push({type: 'line', silent: true, shape: {x1: 789, y1: 12, x2: 789, y2: 978}, style: {stroke: '#000', lineWidth: 2}});
// scale bars
const barFont = 'bold 15px "Liberation Sans", Arial, sans-serif';
const optBottom = 953, irBottom = 953;
graphics.push({type: 'line', silent: true, shape: {x1: 24, y1: optBottom - 0.2 * pxPerUnitOpt, x2: 24, y2: optBottom}, style: {stroke: '#000', lineWidth: 2}});
graphics.push({type: 'text', x: 32, y: 934, silent: true, style: {text: '0.2', font: barFont, fill: '#000', align: 'left', verticalAlign: 'middle'}});
graphics.push({type: 'line', silent: true, shape: {x1: colLeft0, y1: 961, x2: colLeft0 + 40 / (2 * halfWOpt) * panelW, y2: 961}, style: {stroke: '#000', lineWidth: 2}});
graphics.push({type: 'text', x: 10, y: 977, silent: true, style: {text: '40 Å', font: barFont, fill: '#000', align: 'left', verticalAlign: 'middle'}});
const irLeft = colLeft0 + colStep * 7;
graphics.push({type: 'line', silent: true, shape: {x1: 815, y1: irBottom - 0.1 * pxPerUnitIR, x2: 815, y2: irBottom}, style: {stroke: '#000', lineWidth: 2}});
graphics.push({type: 'text', x: 825, y: 944, silent: true, style: {text: '0.1', font: barFont, fill: '#000', align: 'left', verticalAlign: 'middle'}});
graphics.push({type: 'line', silent: true, shape: {x1: irLeft, y1: 964, x2: irLeft + 0.015 / (2 * halfWIR) * panelW, y2: 964}, style: {stroke: '#000', lineWidth: 2}});
graphics.push({type: 'text', x: 821, y: 985, silent: true, style: {
  text: '0.015 {i|μ}m', font: barFont, fill: '#000', align: 'left', verticalAlign: 'middle',
  rich: {i: {fontStyle: 'italic', fontWeight: 'bold', fontSize: 15, fontFamily: '"DejaVu Sans", sans-serif'}}}});

const chart = echarts.init(document.getElementById('chart'), null, {renderer: 'canvas'});
chart.setOption({
  animation: false,
  backgroundColor: '#fff',
  grid: grids, xAxis: xAxes, yAxis: yAxes, series: series,
  graphic: {elements: graphics}
});
</script></body></html>
